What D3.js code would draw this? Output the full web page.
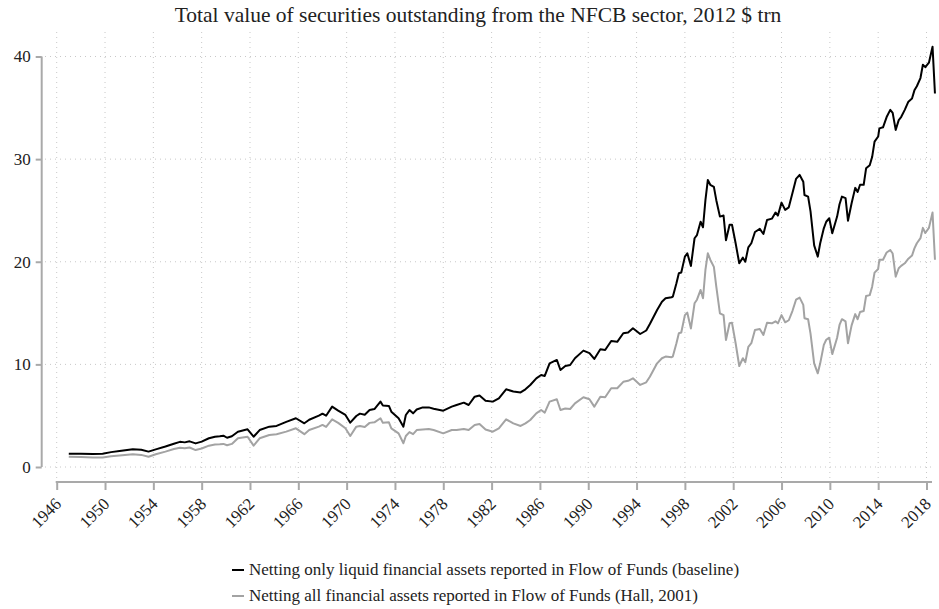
<!DOCTYPE html>
<html><head><meta charset="utf-8">
<script src="https://cdn.jsdelivr.net/npm/d3@7"></script>
<style>
html,body{margin:0;padding:0;background:#fff;}
svg{display:block;font-family:"Liberation Serif","DejaVu Serif",serif;}
</style></head>
<body>
<svg id="chart" width="939" height="609"></svg>
<script>
const title = "Total value of securities outstanding from the NFCB sector, 2012 $ trn";
const seriesNames = [
  "Netting only liquid financial assets reported in Flow of Funds (baseline)",
  "Netting all financial assets reported in Flow of Funds (Hall, 2001)"
];
const xTicks = [1946,1950,1954,1958,1962,1966,1970,1974,1978,1982,1986,1990,1994,1998,2002,2006,2010,2014,2018];
const yTicks = [0,10,20,30,40];

const years = [1947.0,1948.0,1949.0,1949.8,1950.5,1951.2,1952.3,1953.0,1953.6,1954.2,1955.0,1955.7,1956.2,1956.6,1957.0,1957.5,1958.0,1958.6,1959.1,1959.5,1959.8,1960.1,1960.5,1961.0,1961.8,1962.3,1962.8,1963.6,1964.2,1965.0,1965.8,1966.5,1966.9,1967.7,1968.0,1968.3,1968.8,1969.3,1969.9,1970.3,1970.8,1971.1,1971.5,1971.9,1972.3,1972.8,1973.0,1973.5,1973.7,1974.3,1974.7,1974.9,1975.2,1975.5,1975.8,1976.3,1976.8,1977.2,1978.0,1978.7,1979.1,1979.7,1980.1,1980.6,1981.0,1981.5,1982.1,1982.6,1983.2,1983.8,1984.4,1984.8,1985.2,1985.7,1986.1,1986.4,1986.8,1987.4,1987.7,1988.1,1988.5,1988.9,1989.6,1990.1,1990.5,1991.0,1991.4,1991.9,1992.4,1992.9,1993.3,1993.7,1994.3,1994.8,1995.1,1995.7,1996.1,1996.4,1996.9,1997.0,1997.3,1997.5,1997.7,1998.0,1998.2,1998.5,1998.8,1999.0,1999.3,1999.5,1999.7,1999.9,2000.1,2000.4,2000.6,2000.9,2001.2,2001.4,2001.7,2001.9,2002.2,2002.5,2002.8,2003.0,2003.25,2003.5,2003.8,2004.2,2004.5,2004.8,2005.2,2005.5,2005.7,2006.0,2006.3,2006.6,2006.9,2007.2,2007.5,2007.8,2007.9,2008.2,2008.4,2008.7,2009.0,2009.2,2009.5,2009.7,2009.95,2010.2,2010.6,2010.8,2011.0,2011.3,2011.5,2011.8,2012.1,2012.3,2012.5,2012.8,2013.0,2013.3,2013.5,2013.7,2014.0,2014.1,2014.4,2014.7,2015.0,2015.2,2015.45,2015.7,2015.9,2016.2,2016.5,2016.8,2017.0,2017.2,2017.5,2017.7,2017.9,2018.2,2018.5,2018.7];

const baseline = [1.30,1.28,1.27,1.30,1.45,1.55,1.72,1.68,1.50,1.72,2.00,2.27,2.45,2.40,2.50,2.30,2.47,2.80,2.95,3.00,3.05,2.85,3.00,3.44,3.67,2.95,3.60,3.93,4.00,4.40,4.75,4.26,4.60,5.00,5.20,5.00,5.88,5.50,5.07,4.32,4.97,5.20,5.10,5.55,5.65,6.37,6.00,5.95,5.39,4.75,3.93,5.07,5.55,5.23,5.60,5.81,5.81,5.68,5.49,5.88,6.04,6.27,6.04,6.85,6.97,6.46,6.37,6.69,7.57,7.36,7.27,7.57,7.99,8.64,8.97,8.87,10.10,10.43,9.45,9.84,9.94,10.60,11.34,11.10,10.53,11.47,11.40,12.28,12.20,13.03,13.10,13.52,12.96,13.30,13.94,15.30,16.11,16.44,16.54,16.60,17.90,18.88,18.95,20.50,20.83,19.59,22.29,22.60,23.90,23.36,26.00,27.97,27.50,27.30,26.00,24.40,24.50,22.10,23.60,23.60,21.80,19.85,20.40,20.00,21.40,21.80,22.90,23.20,22.70,24.07,24.20,24.80,24.50,25.76,25.05,25.30,26.67,28.07,28.46,27.80,26.50,26.35,24.90,21.60,20.50,21.80,23.26,23.90,24.24,22.78,24.40,25.60,26.35,26.20,24.00,25.70,27.20,26.80,27.50,27.50,29.10,29.40,30.20,31.70,32.20,33.00,33.10,34.10,34.80,34.50,32.85,33.80,34.10,34.80,35.60,35.90,36.70,37.10,37.90,39.20,38.96,39.40,40.96,36.40];

const hall = [1.00,0.97,0.93,0.92,1.05,1.12,1.24,1.18,1.00,1.24,1.50,1.75,1.88,1.82,1.90,1.65,1.80,2.08,2.20,2.22,2.25,2.12,2.25,2.80,2.95,2.08,2.80,3.12,3.20,3.45,3.77,3.20,3.60,3.93,4.10,3.90,4.65,4.30,3.77,3.02,3.93,4.00,3.90,4.30,4.35,4.75,4.30,4.35,3.77,3.28,2.31,3.02,3.40,3.20,3.60,3.65,3.70,3.60,3.28,3.60,3.60,3.70,3.60,4.10,4.20,3.65,3.44,3.77,4.65,4.25,4.00,4.25,4.58,5.23,5.55,5.30,6.37,6.60,5.55,5.70,5.65,6.20,6.80,6.60,5.88,6.85,6.80,7.67,7.67,8.30,8.40,8.64,8.00,8.25,8.80,10.10,10.60,10.76,10.70,10.76,12.06,13.03,13.10,14.80,15.04,13.50,15.95,16.30,17.25,16.44,19.20,20.83,20.20,19.50,17.57,14.98,14.80,12.38,14.00,14.05,12.06,9.84,10.60,10.20,11.70,12.06,13.35,13.45,12.87,14.06,14.00,14.20,14.00,14.80,14.10,14.30,15.20,16.30,16.50,15.80,14.50,14.40,13.00,10.10,9.13,10.10,11.90,12.40,12.60,11.00,12.60,13.84,14.40,14.20,12.06,13.80,14.90,14.40,15.10,15.20,16.67,16.75,17.57,18.94,19.30,20.20,20.20,20.90,21.15,20.80,18.55,19.37,19.60,19.85,20.30,20.60,21.30,21.80,22.30,23.30,22.80,23.30,24.80,20.20];

const colors = ["#000000", "#a3a3a3"];

const svg = d3.select("#chart");
const x = d3.scaleLinear().domain([1946, 2018]).range([56.7, 926.5]);
const y = d3.scaleLinear().domain([0, 40]).range([467, 56.5]);

// title
svg.append("text").attr("x", 478).attr("y", 22).attr("text-anchor", "middle")
  .attr("font-size", 21.5).attr("fill", "#222").text(title);

// gridlines
const grid = svg.append("g");
grid.selectAll("line.v").data(xTicks).join("line")
  .attr("x1", d => x(d)).attr("x2", d => x(d)).attr("y1", 32).attr("y2", 478)
  .attr("stroke", "#c8c8c8").attr("stroke-width", 1).attr("stroke-dasharray", "1,4");
grid.selectAll("line.h").data(yTicks).join("line")
  .attr("x1", 45).attr("x2", 933).attr("y1", d => y(d)).attr("y2", d => y(d))
  .attr("stroke", "#c8c8c8").attr("stroke-width", 1).attr("stroke-dasharray", "1,4");

// y axis
const yAxis = d3.axisLeft(y).tickValues(yTicks).tickSize(6).tickPadding(5);
const gy = svg.append("g").attr("transform", "translate(41.7,0)").call(yAxis);
gy.select(".domain").remove();
gy.append("line").attr("x1", 0).attr("x2", 0).attr("y1", y(40)).attr("y2", y(0))
  .attr("stroke", "#a9a9a9").attr("stroke-width", 2);
gy.selectAll(".tick line").attr("stroke", "#a9a9a9").attr("stroke-width", 2);
gy.selectAll(".tick text").attr("font-size", 17).attr("fill", "#222")
  .attr("font-family", "Liberation Serif, serif");

// x axis
const xAxis = d3.axisBottom(x).tickValues(xTicks).tickFormat(d3.format("d")).tickSize(8).tickPadding(3);
const gx = svg.append("g").attr("transform", "translate(0,482)").call(xAxis);
gx.select(".domain").remove();
gx.append("line").attr("x1", 55.7).attr("x2", 932).attr("y1", 0).attr("y2", 0)
  .attr("stroke", "#a9a9a9").attr("stroke-width", 2);
gx.selectAll(".tick line").attr("stroke", "#a9a9a9").attr("stroke-width", 2);
gx.selectAll(".tick text").attr("font-size", 17).attr("fill", "#222")
  .attr("font-family", "Liberation Serif, serif")
  .attr("text-anchor", "end")
  .attr("dy", null)
  .attr("transform", "translate(5,23) rotate(-45)")
  .attr("y", 0).attr("x", 0);

// lines
const line = d3.line().x((d, i) => x(years[i])).y(d => y(d));
svg.append("g").selectAll("path").data([hall, baseline]).join("path")
  .attr("d", d => line(d))
  .attr("fill", "none")
  .attr("stroke", (d, i) => i === 0 ? colors[1] : colors[0])
  .attr("stroke-width", 2)
  .attr("stroke-linejoin", "round");

// legend
const lg = svg.append("g");
seriesNames.forEach((name, i) => {
  const yy = 570 + i * 26;
  lg.append("line").attr("x1", 232).attr("x2", 244).attr("y1", yy).attr("y2", yy)
    .attr("stroke", colors[i]).attr("stroke-width", 2);
  lg.append("text").attr("x", 249).attr("y", yy + 5).attr("font-size", 17)
    .attr("fill", "#222").text(name);
});
</script>
</body></html>
